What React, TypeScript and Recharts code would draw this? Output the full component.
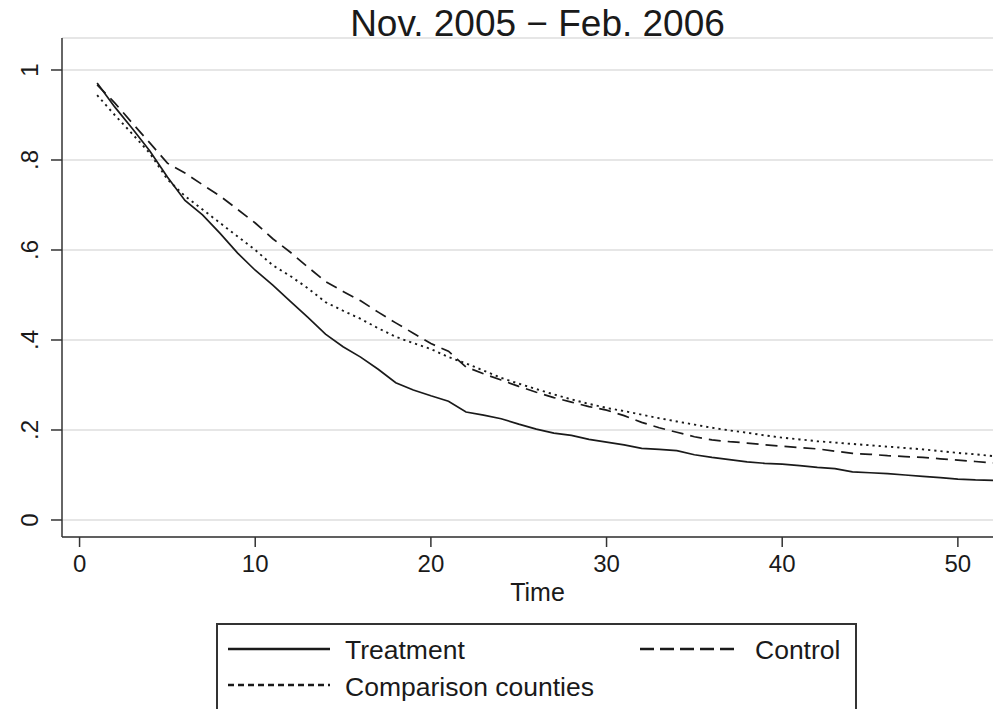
import React from 'react';
import { LineChart, Line, XAxis, YAxis, CartesianGrid, Legend } from 'recharts';

const times = [1,2,3,4,5,6,7,8,9,10,11,12,13,14,15,16,17,18,19,20,21,22,23,24,25,26,27,28,29,30,31,32,33,34,35,36,37,38,39,40,41,42,43,44,45,46,47,48,49,50,51,52];

const treatment = [0.971,0.918,0.87,0.82,0.762,0.71,0.678,0.637,0.593,0.555,0.522,0.486,0.45,0.413,0.385,0.362,0.335,0.305,0.289,0.276,0.264,0.24,0.233,0.225,0.213,0.202,0.193,0.188,0.179,0.173,0.167,0.159,0.157,0.154,0.145,0.139,0.134,0.129,0.126,0.124,0.121,0.117,0.114,0.107,0.105,0.103,0.1,0.097,0.094,0.091,0.089,0.088];

const control = [0.967,0.927,0.882,0.838,0.793,0.771,0.745,0.72,0.69,0.66,0.625,0.595,0.562,0.53,0.508,0.487,0.462,0.438,0.415,0.392,0.375,0.34,0.325,0.311,0.297,0.284,0.272,0.262,0.252,0.244,0.232,0.217,0.205,0.195,0.185,0.178,0.174,0.171,0.167,0.164,0.161,0.158,0.153,0.148,0.146,0.143,0.141,0.139,0.136,0.133,0.13,0.127];

const comparison = [0.944,0.9,0.858,0.815,0.757,0.72,0.69,0.66,0.63,0.6,0.566,0.542,0.515,0.484,0.465,0.447,0.426,0.407,0.393,0.38,0.362,0.348,0.332,0.316,0.303,0.291,0.279,0.268,0.258,0.249,0.242,0.234,0.226,0.219,0.212,0.205,0.199,0.194,0.188,0.183,0.179,0.175,0.172,0.169,0.166,0.163,0.16,0.157,0.153,0.149,0.146,0.142];

const xTicks = [0, 10, 20, 30, 40, 50];
const yTicks = [0, 0.2, 0.4, 0.6, 0.8, 1];
const yTickLabels = ['0', '.2', '.4', '.6', '.8', '1'];

const data = times.map((t, i) => ({
  time: t,
  treatment: treatment[i],
  control: control[i],
  comparison: comparison[i],
}));

const FONT = '"Liberation Sans", Arial, sans-serif';
const INK = '#1a1a1a';

const YTick = (props: any) => {
  const { x, y, payload } = props;
  const idx = yTicks.indexOf(payload.value);
  const label = idx >= 0 ? yTickLabels[idx] : String(payload.value);
  const bx = x - 12.5;
  return (
    <text
      x={bx}
      y={y}
      transform={`rotate(-90, ${bx}, ${y})`}
      textAnchor="middle"
      fontFamily={FONT}
      fontSize={24}
      fill={INK}
    >
      {label}
    </text>
  );
};

const XTick = (props: any) => {
  const { x, y, payload } = props;
  return (
    <text x={x} y={y} dy={25} textAnchor="middle" fontFamily={FONT} fontSize={24} fill={INK}>
      {payload.value}
    </text>
  );
};

const TimeLabel = (props: any) => {
  const vb = props.viewBox || {};
  return (
    <text
      x={vb.x + vb.width / 2 + 10}
      y={601}
      textAnchor="middle"
      fontFamily={FONT}
      fontSize={25}
      fill={INK}
    >
      Time
    </text>
  );
};

const LegendBox = () => (
  <div
    style={{
      width: 641,
      height: 92,
      border: '2px solid #333',
      boxSizing: 'border-box',
      background: '#fff',
    }}
  >
    <svg width={637} height={88} style={{ display: 'block' }}>
      <line x1={10} x2={112} y1={24} y2={24} stroke={INK} strokeWidth={2.5} />
      <text x={127} y={34} fontFamily={FONT} fontSize={26.5} fill={INK}>Treatment</text>
      <line x1={422} x2={522} y1={24} y2={24} stroke={INK} strokeWidth={2.5} strokeDasharray="14 6" />
      <text x={537} y={34} fontFamily={FONT} fontSize={26.5} fill={INK}>Control</text>
      <line x1={10} x2={112} y1={60} y2={60} stroke={INK} strokeWidth={2.5} strokeDasharray="6 4" />
      <text x={127} y={71} fontFamily={FONT} fontSize={26.5} fill={INK}>Comparison counties</text>
    </svg>
  </div>
);

export default function App() {
  return (
    <div style={{ position: 'absolute', left: 0, top: 0, width: 993, height: 709, overflow: 'hidden', background: '#fff' }}>
      <div
        style={{
          position: 'absolute',
          left: 0,
          top: 3,
          width: 1075,
          textAlign: 'center',
          fontFamily: FONT,
          fontSize: 37,
          lineHeight: '42px',
          color: INK,
        }}
      >
        Nov. 2005 − Feb. 2006
      </div>
      <LineChart
        width={993}
        height={709}
        data={data}
        margin={{ top: 38, right: 0, bottom: 100, left: 0 }}
      >
        <CartesianGrid vertical={false} stroke="#e6e6e6" strokeWidth={2} />
        <XAxis
          dataKey="time"
          type="number"
          domain={[-1, 52]}
          ticks={xTicks}
          allowDataOverflow
          height={72}
          tickSize={10}
          tickMargin={0}
          tick={<XTick />}
          axisLine={{ stroke: '#333', strokeWidth: 1.5 }}
          tickLine={{ stroke: '#333', strokeWidth: 1.5 }}
          label={<TimeLabel />}
        />
        <YAxis
          type="number"
          domain={[-0.0378, 1.0711]}
          ticks={yTicks}
          allowDataOverflow
          width={62}
          tickSize={11}
          tickMargin={0}
          tick={<YTick />}
          axisLine={{ stroke: '#333', strokeWidth: 1.5 }}
          tickLine={{ stroke: '#333', strokeWidth: 1.5 }}
        />
        <Legend
          layout="horizontal"
          verticalAlign="middle"
          align="center"
          wrapperStyle={{ left: 216, top: 623, width: 641, height: 92 }}
          content={<LegendBox />}
        />
        <Line
          type="linear"
          dataKey="treatment"
          name="Treatment"
          stroke={INK}
          strokeWidth={1.7}
          dot={false}
          isAnimationActive={false}
        />
        <Line
          type="linear"
          dataKey="control"
          name="Control"
          stroke={INK}
          strokeWidth={1.7}
          strokeDasharray="12 7"
          dot={false}
          isAnimationActive={false}
        />
        <Line
          type="linear"
          dataKey="comparison"
          name="Comparison counties"
          stroke={INK}
          strokeWidth={1.9}
          strokeDasharray="2.2 4"
          dot={false}
          isAnimationActive={false}
        />
      </LineChart>
    </div>
  );
}
